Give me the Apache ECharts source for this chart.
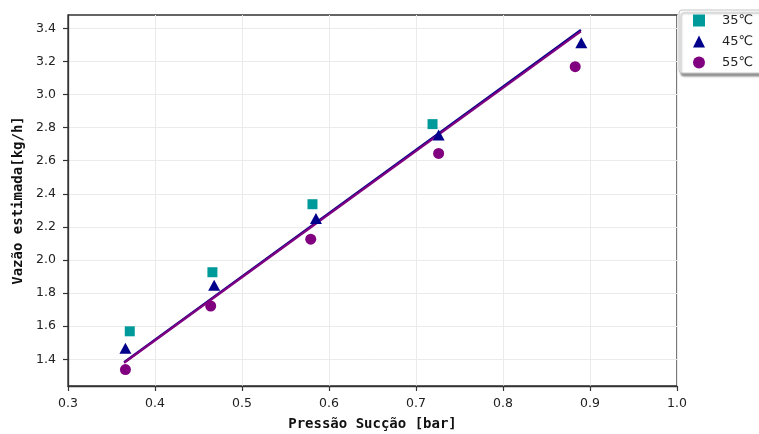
<!DOCTYPE html>
<html>
<head>
<meta charset="utf-8">
<script src="https://cdn.jsdelivr.net/npm/echarts@6/dist/echarts.min.js"></script>
<style>
  html, body { margin: 0; padding: 0; background: #fff; }
  #chart { width: 759px; height: 434px; }
</style>
</head>
<body>
<div id="chart"></div>
<script>
// Suction pressure (bar) and estimated flow (kg/h) per temperature
const x35 = [0.371, 0.466, 0.581, 0.719];
const y35 = [1.569, 1.926, 2.337, 2.821];

const x45 = [0.366, 0.468, 0.585, 0.726, 0.890];
const y45 = [1.467, 1.848, 2.251, 2.755, 3.313];

const x55 = [0.366, 0.464, 0.579, 0.726, 0.883];
const y55 = [1.338, 1.722, 2.126, 2.644, 3.168];

// Linear fit lines (end points)
const fitX = [0.3645, 0.8895];
const fit45 = [1.382, 3.390];
const fit55 = [1.379, 3.381];

const yTicks = [1.4, 1.6, 1.8, 2.0, 2.2, 2.4, 2.6, 2.8, 3.0, 3.2, 3.4];

const seriesNames = ['35℃', '45℃', '55℃'];
const colors = ['#009a9a', '#00008b', '#800080'];

const zip = (xs, ys) => xs.map((v, i) => [v, ys[i]]);

const chart = echarts.init(document.getElementById('chart'), null, { renderer: 'canvas' });

const axisText = { color: '#222', fontFamily: 'DejaVu Sans', fontSize: 12.5 };

chart.setOption({
  animation: false,
  backgroundColor: '#fff',
  grid: {
    left: 68, right: 82, top: 15, bottom: 48,
    containLabel: false, outerBoundsMode: 'none',
    show: true, borderColor: '#333', borderWidth: 1.3, backgroundColor: 'transparent'
  },
  legend: {
    data: seriesNames.map(n => ({ name: n })),
    orient: 'vertical',
    left: 679, top: 10,
    itemWidth: 12, itemHeight: 12, itemGap: 8,
    padding: [4, 12, 4, 14],
    backgroundColor: '#fff',
    borderColor: '#c4c4c4', borderWidth: 1, borderRadius: 3,
    shadowColor: 'rgba(0,0,0,0.4)', shadowBlur: 2, shadowOffsetX: 2, shadowOffsetY: 3,
    textStyle: { color: '#222', fontFamily: 'DejaVu Sans', fontSize: 13, padding: [0, 0, 0, 12] }
  },
  xAxis: {
    type: 'value', min: 0.3, max: 1.0, interval: 0.1,
    name: 'Pressão Sucção [bar]', nameLocation: 'middle', nameGap: 31,
    nameTextStyle: { color: '#111', fontFamily: 'DejaVu Sans Mono', fontWeight: 'bold', fontSize: 14 },
    axisLine: { show: true, lineStyle: { color: '#333', width: 1.3 } },
    axisTick: { show: true, inside: false, length: 5, lineStyle: { color: '#333', width: 1.2 } },
    axisLabel: { ...axisText, margin: 11, formatter: v => v.toFixed(1) },
    splitLine: { show: true, lineStyle: { color: '#ebebeb', width: 1 } }
  },
  yAxis: {
    type: 'value', min: 1.2385, max: 3.4804,
    name: 'Vazão estimada[kg/h]', nameLocation: 'middle', nameGap: 40,
    nameTextStyle: { color: '#111', fontFamily: 'DejaVu Sans Mono', fontWeight: 'bold', fontSize: 14 },
    axisLine: { show: true, lineStyle: { color: '#333', width: 1.3 } },
    axisTick: { show: true, inside: false, length: 5, customValues: yTicks, lineStyle: { color: '#333', width: 1.2 } },
    axisLabel: { ...axisText, margin: 12, customValues: yTicks, formatter: v => v.toFixed(1) },
    splitLine: { show: true, lineStyle: { color: '#ebebeb', width: 1 } }
  },
  series: [
    {
      type: 'line', data: zip(fitX, fit45), showSymbol: false, silent: true,
      lineStyle: { color: colors[1], width: 2.2 }, z: 2
    },
    {
      type: 'line', data: zip(fitX, fit55), showSymbol: false, silent: true,
      lineStyle: { color: colors[2], width: 2.2 }, z: 3
    },
    {
      name: seriesNames[0], type: 'scatter', data: zip(x35, y35),
      symbol: 'rect', symbolSize: 10, itemStyle: { color: colors[0], opacity: 1 }, z: 4
    },
    {
      name: seriesNames[1], type: 'scatter', data: zip(x45, y45),
      symbol: 'triangle', symbolSize: [12, 11], itemStyle: { color: colors[1], opacity: 1 }, z: 4
    },
    {
      name: seriesNames[2], type: 'scatter', data: zip(x55, y55),
      symbol: 'circle', symbolSize: 11, itemStyle: { color: colors[2], opacity: 1 }, z: 4
    }
  ]
});
</script>
</body>
</html>
